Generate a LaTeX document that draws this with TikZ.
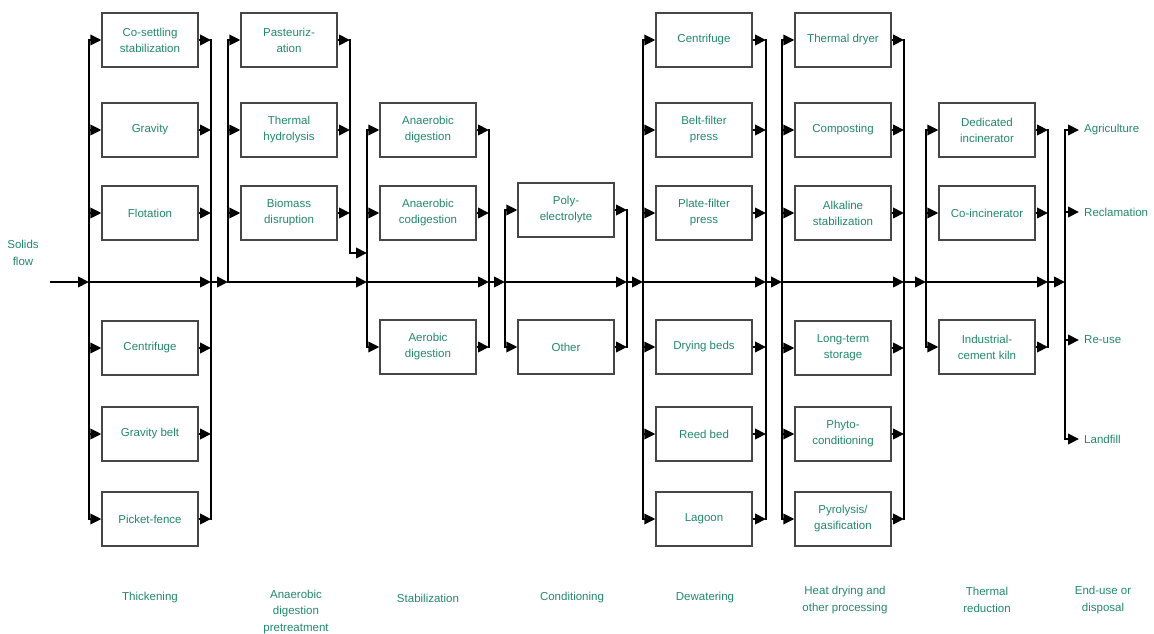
\documentclass[tikz,border=0pt]{standalone}
\usepackage{fontspec}
\setmainfont{Liberation Sans}
\usetikzlibrary{arrows.meta}
\definecolor{lbl}{RGB}{34,136,106}
\definecolor{boxc}{RGB}{70,70,70}
\begin{document}
\begin{tikzpicture}[x=1pt,y=-1pt,
  proc/.style={draw=boxc, line width=1.3pt, minimum width=96pt, minimum height=54pt, inner sep=0pt, align=center, text=lbl, font=\fontsize{11.5}{16}\selectfont},
  lab/.style={text=lbl, align=center, font=\fontsize{11.5}{16.5}\selectfont, inner sep=0pt},
  flow/.style={line width=2.1pt, -{Triangle[length=11pt,width=10.5pt]}},
  bus/.style={line width=2.1pt, line cap=rect},
]
\useasboundingbox (0,0) rectangle (1154,634);

% ---- bus coordinates on the main line ----
\coordinate (m0) at (50,282);
\coordinate (thL) at (89,282);   \coordinate (thR) at (211,282);
\coordinate (prL) at (228,282);  \coordinate (prR) at (350,282);
\coordinate (stL) at (367,282);  \coordinate (stR) at (489,282);
\coordinate (coL) at (505,282);  \coordinate (coR) at (627,282);
\coordinate (dwL) at (643,282);  \coordinate (dwR) at (766,282);
\coordinate (htL) at (782,282);  \coordinate (htR) at (904,282);
\coordinate (trL) at (926,282);  \coordinate (trR) at (1048,282);
\coordinate (enB) at (1065,282);

% ---- Thickening ----
\node[proc] (th1) at (150,40)  {Co-settling\\stabilization};
\node[proc] (th2) at (150,130) {Gravity};
\node[proc] (th3) at (150,213) {Flotation};
\node[proc] (th4) at (150,348) {Centrifuge};
\node[proc] (th5) at (150,434) {Gravity belt};
\node[proc] (th6) at (150,519) {Picket-fence};
\draw[bus] (th1.west -| thL) -- (th6.west -| thL);
\draw[bus] (th1.east -| thR) -- (th6.east -| thR);
\foreach \i in {1,...,6}{
  \draw[flow] (th\i.west -| thL) -- (th\i.west);
  \draw[flow] (th\i.east) -- (th\i.east -| thR);
}

% ---- Anaerobic digestion pretreatment ----
\node[proc] (pr1) at (289,40)  {Pasteuriz-\\ation};
\node[proc] (pr2) at (289,130) {Thermal\\hydrolysis};
\node[proc] (pr3) at (289,213) {Biomass\\disruption};
\coordinate (prK) at (350,253);
\draw[bus] (prL) -- (pr1.west -| prL);
\draw[bus] (pr1.east -| prR) -- (prK);
\foreach \i in {1,...,3}{
  \draw[flow] (pr\i.west -| prL) -- (pr\i.west);
  \draw[flow] (pr\i.east) -- (pr\i.east -| prR);
}
\draw[flow] (prK) -- (prK -| stL);

% ---- Stabilization ----
\node[proc] (st1) at (428,130) {Anaerobic\\digestion};
\node[proc] (st2) at (428,213) {Anaerobic\\codigestion};
\node[proc] (st3) at (428,347) {Aerobic\\digestion};
\draw[bus] (st1.west -| stL) -- (st3.west -| stL);
\draw[bus] (st1.east -| stR) -- (st3.east -| stR);
\foreach \i in {1,...,3}{
  \draw[flow] (st\i.west -| stL) -- (st\i.west);
  \draw[flow] (st\i.east) -- (st\i.east -| stR);
}

% ---- Conditioning ----
\node[proc] (co1) at (566,210) {Poly-\\electrolyte};
\node[proc] (co2) at (566,347) {Other};
\draw[bus] (co1.west -| coL) -- (co2.west -| coL);
\draw[bus] (co1.east -| coR) -- (co2.east -| coR);
\foreach \i in {1,2}{
  \draw[flow] (co\i.west -| coL) -- (co\i.west);
  \draw[flow] (co\i.east) -- (co\i.east -| coR);
}

% ---- Dewatering ----
\node[proc] (dw1) at (704,40)  {Centrifuge};
\node[proc] (dw2) at (704,130) {Belt-filter\\press};
\node[proc] (dw3) at (704,213) {Plate-filter\\press};
\node[proc] (dw4) at (704,347) {Drying beds};
\node[proc] (dw5) at (704,434) {Reed bed};
\node[proc] (dw6) at (704,519) {Lagoon};
\draw[bus] (dw1.west -| dwL) -- (dw6.west -| dwL);
\draw[bus] (dw1.east -| dwR) -- (dw6.east -| dwR);
\foreach \i in {1,...,6}{
  \draw[flow] (dw\i.west -| dwL) -- (dw\i.west);
  \draw[flow] (dw\i.east) -- (dw\i.east -| dwR);
}

% ---- Heat drying and other processing ----
\node[proc] (ht1) at (843,40)  {Thermal dryer};
\node[proc] (ht2) at (843,130) {Composting};
\node[proc] (ht3) at (843,213) {Alkaline\\stabilization};
\node[proc] (ht4) at (843,348) {Long-term\\storage};
\node[proc] (ht5) at (843,434) {Phyto-\\conditioning};
\node[proc] (ht6) at (843,519) {Pyrolysis/\\gasification};
\draw[bus] (ht1.west -| htL) -- (ht6.west -| htL);
\draw[bus] (ht1.east -| htR) -- (ht6.east -| htR);
\foreach \i in {1,...,6}{
  \draw[flow] (ht\i.west -| htL) -- (ht\i.west);
  \draw[flow] (ht\i.east) -- (ht\i.east -| htR);
}

% ---- Thermal reduction ----
\node[proc] (tr1) at (987,130) {Dedicated\\incinerator};
\node[proc] (tr2) at (987,213) {Co-incinerator};
\node[proc] (tr3) at (987,347) {Industrial-\\cement kiln};
\draw[bus] (tr1.west -| trL) -- (tr3.west -| trL);
\draw[bus] (tr1.east -| trR) -- (tr3.east -| trR);
\foreach \i in {1,...,3}{
  \draw[flow] (tr\i.west -| trL) -- (tr\i.west);
  \draw[flow] (tr\i.east) -- (tr\i.east -| trR);
}

% ---- End-use or disposal ----
\node[lab, anchor=west] (en1) at (1084,130) {Agriculture};
\node[lab, anchor=west] (en2) at (1084,212) {Reclamation};
\node[lab, anchor=west] (en3) at (1084,340) {Re-use};
\node[lab, anchor=west] (en4) at (1084,439) {Landfill};
\draw[bus] (en1.west -| enB) -- (en4.west -| enB);
\foreach \i in {1,...,4}{
  \draw[flow, shorten >=5pt] (en\i.west -| enB) -- (en\i.west);
}

% ---- main solids line ----
\draw[flow] (m0) -- (thL);
\draw[flow] (thL) -- (thR);
\draw[flow] (thR) -- (prL);
\draw[flow] (prL) -- (stL);
\draw[flow] (stL) -- (stR);
\draw[flow] (stR) -- (coL);
\draw[flow] (coL) -- (coR);
\draw[flow] (coR) -- (dwL);
\draw[flow] (dwL) -- (dwR);
\draw[flow] (dwR) -- (htL);
\draw[flow] (htL) -- (htR);
\draw[flow] (htR) -- (trL);
\draw[flow] (trL) -- (trR);
\draw[flow] (trR) -- (enB);

% ---- labels ----
\node[lab] (solids) at (23,253) {Solids\\flow};
\node[lab] (c1) at (150,598) {Thickening};
\node[lab] (c2) at (296,612) {Anaerobic\\digestion\\pretreatment};
\node[lab] (c3) at (428,598) {Stabilization};
\node[lab] (c4) at (572,598) {Conditioning};
\node[lab] (c5) at (705,598) {Dewatering};
\node[lab] (c6) at (845,600) {Heat drying and\\other processing};
\node[lab] (c7) at (987,600) {Thermal\\reduction};
\node[lab] (c8) at (1103,600) {End-use or\\disposal};
\end{tikzpicture}
\end{document}
